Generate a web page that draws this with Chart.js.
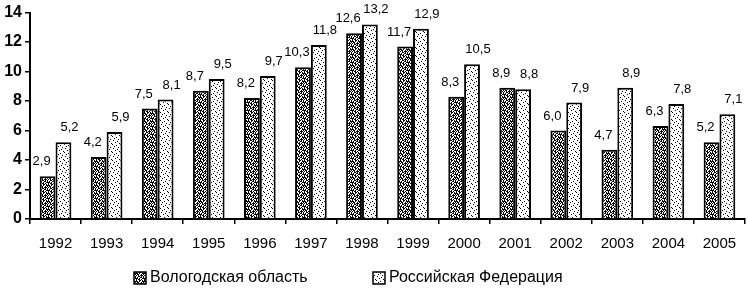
<!DOCTYPE html>
<html>
<head>
<meta charset="utf-8">
<script src="https://cdn.jsdelivr.net/npm/chart.js@4"></script>
<style>
  html, body { margin: 0; padding: 0; background: #fff; }
  #wrap { width: 748px; height: 290px; }
</style>
</head>
<body>
<div id="wrap"><canvas id="myChart" width="748" height="290"></canvas></div>
<script>
const years = ["1992", "1993", "1994", "1995", "1996", "1997", "1998", "1999", "2000", "2001", "2002", "2003", "2004", "2005"];
const vologda = [2.9, 4.2, 7.5, 8.7, 8.2, 10.3, 12.6, 11.7, 8.3, 8.9, 6.0, 4.7, 6.3, 5.2];
const russia = [5.2, 5.9, 8.1, 9.5, 9.7, 11.8, 13.2, 12.9, 10.5, 8.8, 7.9, 8.9, 7.8, 7.1];
const seriesNames = ["Вологодская область", "Российская Федерация"];
const yTicks = [0, 2, 4, 6, 8, 10, 12, 14];

// dense dark texture and sparse dots, like the printed hatching
function makePattern(rows, bg, fg) {
  const c = document.createElement("canvas");
  c.width = rows[0].length;
  c.height = rows.length;
  const g = c.getContext("2d");
  g.fillStyle = bg;
  g.fillRect(0, 0, c.width, c.height);
  g.fillStyle = fg;
  rows.forEach((r, y) => {
    for (let x = 0; x < r.length; x++) {
      if (r[x] === "#") g.fillRect(x, y, 1, 1);
    }
  });
  return g.createPattern(c, "repeat");
}

const darkFill = makePattern([
  "#..##.#.",
  "##.#..##",
  ".##..#.#",
  "#.#.###.",
  "..##.#.#",
  ".#..##.#",
  "##.#..##",
  "#.##.#..",
], "#fff", "#000");

const lightFill = makePattern([
  "#.......",
  "....#...",
  "..#.....",
  "......#.",
  ".#......",
  ".....#..",
  "...#....",
  ".......#",
], "#fff", "#000");

const fills = [darkFill, lightFill];
const fmt = (v) => v.toFixed(1).replace(".", ",");

const valueLabels = {
  id: "valueLabels",
  afterDatasetsDraw(chart) {
    const ctx = chart.ctx;
    ctx.save();
    ctx.font = "13px 'Liberation Sans', Arial, sans-serif";
    ctx.fillStyle = "#000";
    ctx.textAlign = "center";
    ctx.textBaseline = "bottom";
    chart.data.datasets.forEach((ds, i) => {
      const meta = chart.getDatasetMeta(i);
      meta.data.forEach((bar, j) => {
        const shift = i === 0 ? -6 : 6;
        ctx.fillText(fmt(ds.data[j]), bar.x + shift, bar.y - 8);
      });
    });
    ctx.restore();
  },
};

const bottomLegend = {
  id: "bottomLegend",
  afterDraw(chart) {
    const ctx = chart.ctx;
    const spots = [134, 373];
    ctx.save();
    ctx.font = "16px 'Liberation Sans', Arial, sans-serif";
    ctx.textBaseline = "middle";
    seriesNames.forEach((name, i) => {
      const x = spots[i];
      const y = 278;
      ctx.fillStyle = fills[i];
      ctx.fillRect(x, y - 6, 12, 12);
      ctx.strokeStyle = "#000";
      ctx.lineWidth = 1.5;
      ctx.strokeRect(x, y - 6, 12, 12);
      ctx.fillStyle = "#000";
      ctx.fillText(name, x + 16, y);
    });
    ctx.restore();
  },
};

const ctx = document.getElementById("myChart").getContext("2d");
const myChart = new Chart(ctx, {
  type: "bar",
  data: {
    labels: years,
    datasets: [
      {
        label: seriesNames[0],
        data: vologda,
        backgroundColor: darkFill,
        borderColor: "#000",
        borderWidth: 2,
        borderSkipped: "bottom",
      },
      {
        label: seriesNames[1],
        data: russia,
        backgroundColor: lightFill,
        borderColor: "#000",
        borderWidth: 2,
        borderSkipped: "bottom",
      },
    ],
  },
  options: {
    responsive: false,
    animation: false,
    layout: { padding: { top: 7, right: 3, left: 0, bottom: 0 } },
    categoryPercentage: 0.62,
    barPercentage: 1,
    plugins: {
      legend: { display: false },
      tooltip: { enabled: false },
    },
    scales: {
      x: {
        afterFit: (s) => { s.height = 71; },
        grid: {
          offset: true,
          drawOnChartArea: false,
          drawTicks: true,
          tickLength: 5,
          color: "#000",
          lineWidth: 1.5,
        },
        border: { color: "#000", width: 2 },
        ticks: {
          color: "#000",
          padding: 11,
          font: { family: "'Liberation Sans', Arial, sans-serif", size: 15 },
        },
      },
      y: {
        min: 0,
        max: 14,
        afterFit: (s) => { s.width = 30; },
        afterBuildTicks: (s) => { s.ticks = yTicks.map((v) => ({ value: v })); },
        grid: {
          drawOnChartArea: false,
          drawTicks: true,
          tickLength: 5,
          color: "#000",
          lineWidth: 1.5,
        },
        border: { color: "#000", width: 2 },
        ticks: {
          color: "#000",
          padding: 3,
          font: { family: "'Liberation Sans', Arial, sans-serif", size: 16, weight: "bold" },
        },
      },
    },
  },
  plugins: [valueLabels, bottomLegend],
});
</script>
</body>
</html>
